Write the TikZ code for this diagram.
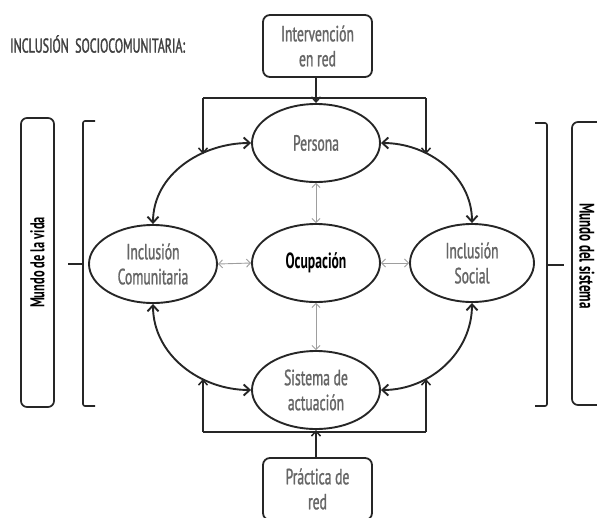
\documentclass[tikz,border=0pt]{standalone}
\usepackage{fontspec}
\setmainfont[FakeStretch=0.62]{PT Sans}
\newfontfamily\labelfont[FakeStretch=0.62,FakeBold=1.2]{PT Sans}
\newfontfamily\headfont[FakeStretch=0.6,FakeBold=1.5]{PT Sans}
\usetikzlibrary{shapes.geometric,arrows.meta}

\begin{document}
\begin{tikzpicture}[x=1pt,y=-1pt,
  ell/.style={ellipse, draw=black!85, line width=1.9pt, minimum width=128pt,
    minimum height=78pt, inner sep=0pt, align=center, text=black!60,
    font=\labelfont\fontsize{22}{25}\selectfont},
  netbox/.style={rectangle, rounded corners=7pt, draw=black!85, line width=1.8pt,
    minimum width=109pt, minimum height=62pt, inner sep=0pt, align=center,
    text=black!60, font=\labelfont\fontsize{22}{25}\selectfont},
  sidebox/.style={rectangle, rounded corners=6pt, draw=black!85, line width=1.7pt,
    inner sep=0pt},
  flow/.style={draw=black!85, line width=1.5pt, -{Straight Barb[length=5pt,width=9pt,line width=1.5pt]}},
  loop/.style={draw=black!85, line width=1.9pt,
    {Straight Barb[length=6pt,width=11pt,line width=1.9pt]}-{Straight Barb[length=6pt,width=11pt,line width=1.9pt]}},
  link/.style={draw=black!38, line width=0.9pt,
    {Straight Barb[length=4pt,width=8pt,line width=0.9pt]}-{Straight Barb[length=4pt,width=8pt,line width=0.9pt]}},
  brace/.style={draw=black!85, line width=1.6pt, rounded corners=2pt},
  side/.style={font=\bfseries\fontsize{20}{22}\selectfont, text=black}
]
\useasboundingbox (0,0) rectangle (597,517);
\clip (0,0) rectangle (597,517);

% title
\node[anchor=west, text=black!75, font=\headfont\fontsize{20}{22}\selectfont, inner sep=0pt] (title) at (10,44)
  {INCLUSIÓN\ \ SOCIOCOMUNITARIA:};

% ellipses
\node[ell] (per) at (316,143) {Persona};
\node[ell] (com) at (153,264) {Inclusión\\Comunitaria};
\node[ell, text=black, font=\bfseries\fontsize{22}{25}\selectfont] (ocu) at (316,263) {Ocupación};
\node[ell, minimum width=124pt] (soc) at (472,263) {Inclusión\\Social};
\node[ell] (sis) at (316,390) {Sistema de\\actuación};

% network boxes
\node[netbox] (int) at (317.5,46) {Intervención\\en red};
\node[netbox] (pra) at (317.5,489) {Práctica de\\red};

% distribution lines from the network boxes
\coordinate (tl) at (203,98);
\coordinate (tr) at (426,98);
\coordinate (tm) at (316,98);
\coordinate (tla) at (203,154);
\coordinate (tra) at (426,154);
\draw[draw=black!85, line width=1.5pt] (tl) -- (tr);
\draw[flow] (int.south -| tm) -- (per.north);
\draw[flow] (tl) -- (tla);
\draw[flow] (tr) -- (tra);

\coordinate (bl) at (203,432);
\coordinate (br) at (426,432);
\coordinate (bla) at (203,379);
\coordinate (bra) at (426,379);
\draw[draw=black!85, line width=1.5pt] (bl) -- (br);
\draw[flow] (pra.north -| sis.south) -- (sis.south);
\draw[flow] (bl) -- (bla);
\draw[flow] (br) -- (bra);

% outer ring
\draw[loop] (com.north) to[out=90, in=180] (per.west);
\draw[loop] (per.east) to[out=0, in=90] (soc.north);
\draw[loop] (com.south) to[out=-90, in=180] (sis.west);
\draw[loop] (soc.south) to[out=-90, in=0] (sis.east);

% links with the centre
\draw[link] (per.south) -- (ocu.north);
\draw[link] (ocu.south) -- (sis.north);
\draw[link] (com.east) -- (ocu.west);
\draw[link] (ocu.east) -- (soc.west);

% brackets
\draw[brace] (95,121) -- (83,121) -- (83,406) -- (95,406);
\draw[brace] (68,264) -- (83,264);
\draw[brace] (535,123) -- (547,123) -- (547,406) -- (535,406);
\draw[brace] (547,265) -- (564,265);

% side labels
\node[sidebox, minimum width=33pt, minimum height=289pt] (vida) at (37.5,262.5) {};
\node[side, rotate=90] (vidat) at (vida.center) {Mundo de la vida};
\node[sidebox, minimum width=40pt, minimum height=283pt] (sist) at (592,263.5) {};
\node[side, rotate=-90, font=\bfseries\fontsize{21}{23}\selectfont] (sistt) at (587,256) {Mundo del sistema};
\end{tikzpicture}
\end{document}
